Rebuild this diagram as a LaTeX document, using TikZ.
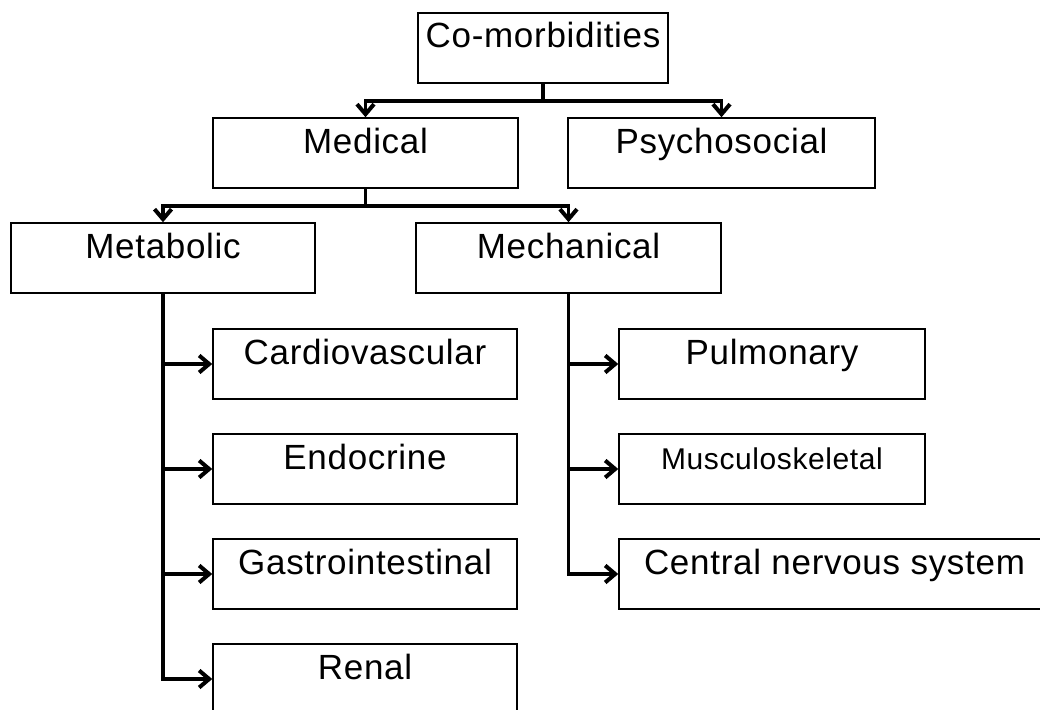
\documentclass[tikz,border=0pt]{standalone}
\usepackage{fontspec}
\setmainfont{Liberation Sans}[LetterSpace=2]
\usetikzlibrary{arrows.meta}

\begin{document}
\begin{tikzpicture}[x=1pt,y=-1pt,
		box/.style={draw, line width=1.5pt, minimum width=305pt, minimum height=70pt, inner sep=0pt, text height=14pt, text depth=14pt, font=\fontsize{35}{40}\selectfont},
		conn/.style={line width=3.5pt},
		arr/.style={conn, -{Straight Barb[length=10pt, width=17pt, line width=4pt]}}]
			\useasboundingbox (0,0) rectangle (1040,709);
			\clip (0,0) rectangle (1040,709);
			\node[box, minimum width=250pt] (como) at (543, 48) {Co-morbidities};
			\node[box] (medical) at (365.5, 153) {Medical};
			\node[box, minimum width=307pt] (psycho) at (721.5, 153) {Psychosocial};
			\node[box, minimum width=304pt] (metabolic) at (163, 258) {Metabolic};
			\node[box] (mechanical) at (568.5, 258) {Mechanical};
			\node[box, minimum width=304pt] (cardio) at (365, 364) {Cardiovascular};
			\node[box, minimum width=304pt] (endo) at (365, 469) {Endocrine};
			\node[box, minimum width=304pt] (gastro) at (365, 574) {Gastrointestinal};
			\node[box, minimum width=304pt] (renal) at (365, 679) {Renal};
			\node[box, minimum width=306pt] (pulm) at (772, 364) {Pulmonary};
			\node[box, minimum width=306pt, font=\fontsize{30}{34}\selectfont] (musc) at (772, 469) {Musculoskeletal};
			\node[box, minimum width=431pt] (cns) at (834.5, 574) {Central nervous system};
			\draw[conn] (como.south) -- ++(0,17) coordinate (top);
			\draw[arr] (top) -| (medical.north);
			\draw[arr] (top) -| (psycho.north);
			\draw[conn] (medical.south) -- ++(0,17) coordinate (mid);
			\draw[arr] (mid) -| (metabolic.north);
			\draw[arr] (mid) -| (mechanical.north);
			\foreach \b in {cardio, endo, gastro, renal}
				\draw[arr] (metabolic.south) |- (\b.west);
			\foreach \b in {pulm, musc, cns}
				\draw[arr] (mechanical.south) |- (\b.west);
		\end{tikzpicture}
\end{document}
